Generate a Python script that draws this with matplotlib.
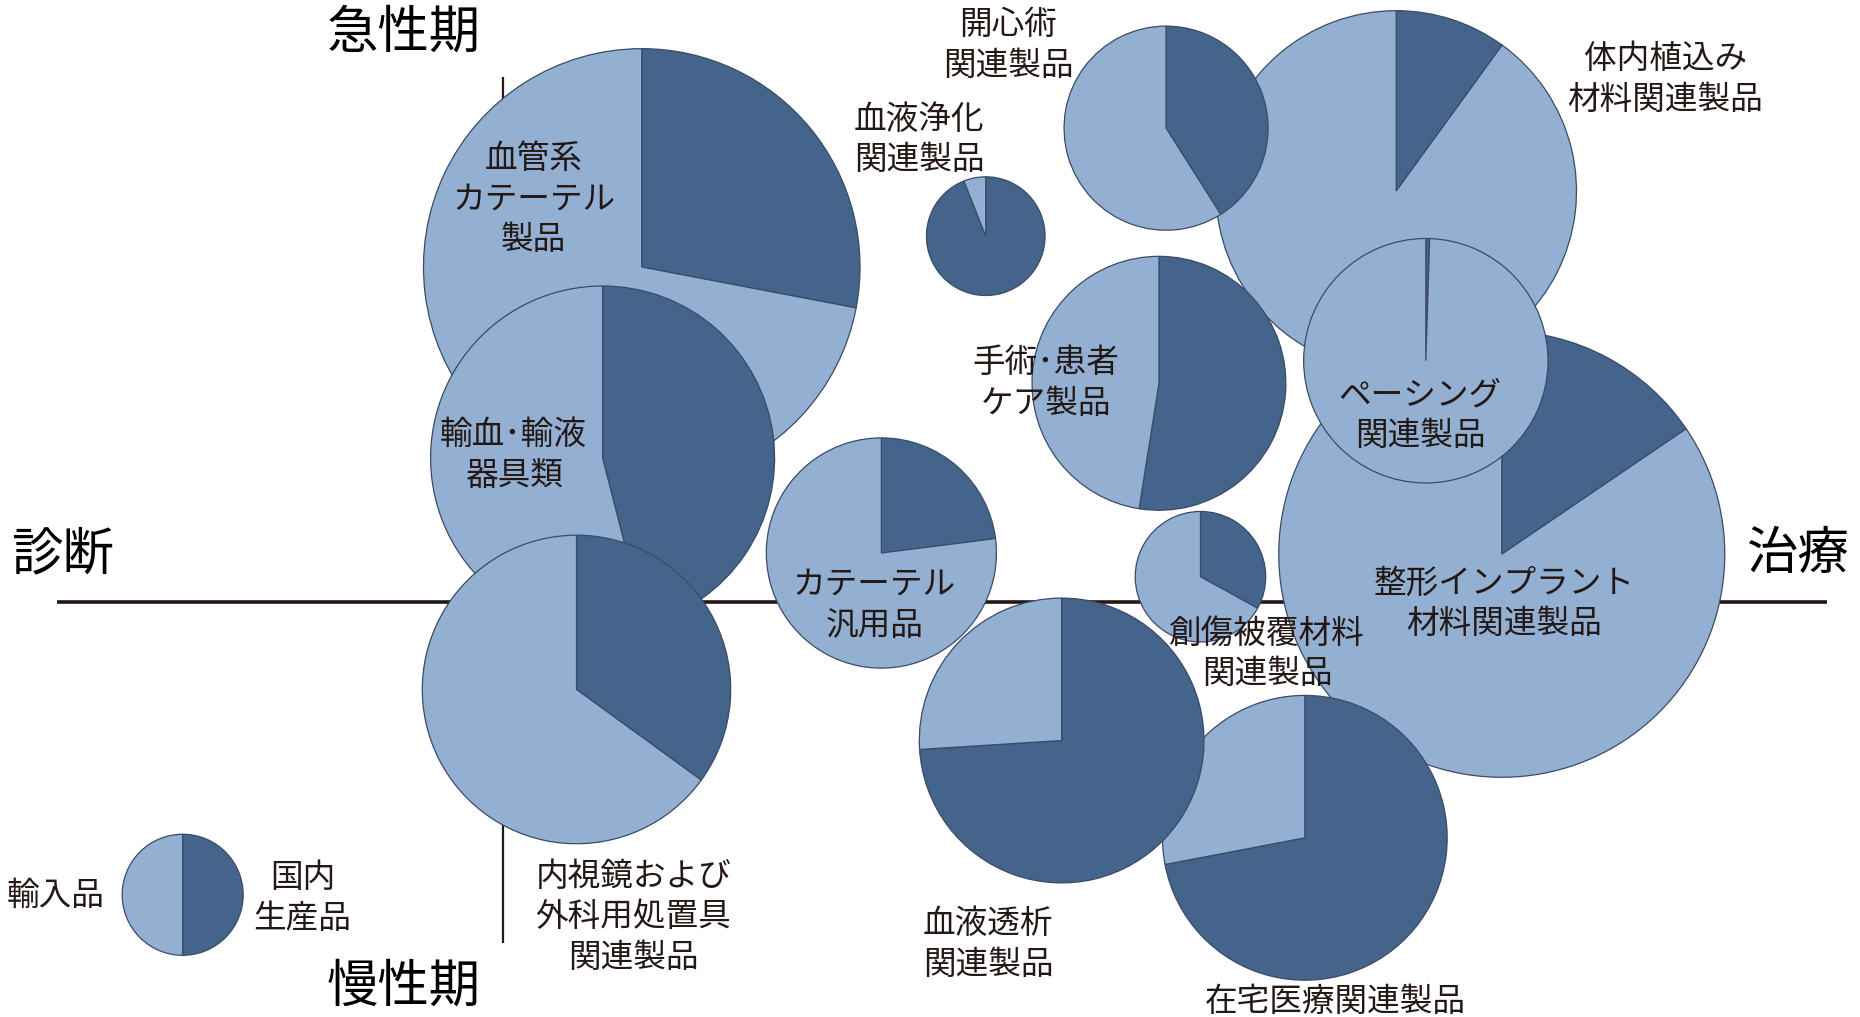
import matplotlib

matplotlib.use("Agg")
import matplotlib.pyplot as plt  # noqa: E402

plt.rcParams["font.family"] = ["Noto Sans CJK JP", "DejaVu Sans"]

# bubbles: position on the chart (x: 診断 -> 治療, y: 慢性期 -> 急性期), radius, domestic share
names = [
    "血管系カテーテル製品", "輸血・輸液器具類", "内視鏡および外科用処置具関連製品",
    "体内植込み材料関連製品", "整形インプラント材料関連製品", "ペーシング関連製品",
    "開心術関連製品", "血液浄化関連製品", "手術・患者ケア製品", "カテーテル汎用品",
    "創傷被覆材料関連製品", "在宅医療関連製品", "血液透析関連製品",
]
bubble_x = [117, 84, 62, 753, 842, 778, 559, 407, 553, 319, 588, 676, 471]
bubble_y = [282, 121, -74, 346, 40, 203, 399, 308, 184, 41, 21, -199, -117]
bubble_r = [184, 145, 130, 152, 188, 103, 86, 50, 107, 97, 55, 120, 120]
domestic = [0.28, 0.46, 0.35, 0.10, 0.155, 0.005, 0.41, 0.94, 0.525, 0.23, 0.33, 0.72, 0.74]

labels = [
    "血管系\nカテーテル\n製品", "輸血･輸液\n器具類", "内視鏡および\n外科用処置具\n関連製品",
    "体内植込み\n材料関連製品", "整形インプラント\n材料関連製品", "ペーシング\n関連製品",
    "開心術\n関連製品", "血液浄化\n関連製品", "手術･患者\nケア製品", "カテーテル\n汎用品",
    "創傷被覆材料\n関連製品", "在宅医療関連製品", "血液透析\n関連製品",
]
label_xy = [
    (26, 339), (9, 123), (110, -266), (980, 440), (844, -2), (773, 157),
    (426, 469), (351, 389), (458, 184), (313, -3), (644, -44), (702, -337), (409, -289),
]

axis_labels = ["急性期", "慢性期", "診断", "治療"]
legend_labels = ["国内\n生産品", "輸入品"]

DARK = "#44648c"
LIGHT = "#93b0d3"
EDGE = "#3b4a66"
TEXT = "#231815"

fig = plt.figure(figsize=(18.6, 10.17), dpi=100)
ax = fig.add_axes([0, 0, 1, 1])

# axes of the positioning map
ax.plot([-376, 1116], [0, 0], color=TEXT, lw=2.6, zorder=0, solid_capstyle="butt")
ax.plot([0, 0], [-288, 442], color=TEXT, lw=1.6, zorder=0, solid_capstyle="butt")

wp = dict(edgecolor=EDGE, linewidth=0.9)
for i, (x, y, r, d) in enumerate(zip(bubble_x, bubble_y, bubble_r, domestic)):
    wedges, _ = ax.pie(
        [d, 1 - d], colors=[DARK, LIGHT], center=(x, y), radius=r,
        startangle=90, counterclock=False, frame=True, wedgeprops=wp,
    )
    for w in wedges:
        w.set_zorder(2 + i)

# legend pie
wedges, _ = ax.pie(
    [0.5, 0.5], colors=[DARK, LIGHT], center=(-270, -247), radius=51,
    startangle=90, counterclock=False, frame=True, wedgeprops=wp,
)
for w in wedges:
    w.set_zorder(20)

FS = 23.5
for txt, (x, y) in zip(labels, label_xy):
    ax.text(x, y, txt, ha="center", va="center", fontsize=FS, color=TEXT,
            linespacing=1.35, zorder=30)

ax.text(-169, -250, legend_labels[0], ha="center", va="center", fontsize=FS,
        color=TEXT, linespacing=1.35, zorder=30)
ax.text(-377, -248, legend_labels[1], ha="center", va="center", fontsize=FS,
        color=TEXT, zorder=30)

for txt, (x, y) in zip(axis_labels, [(-84, 479), (-84, -325), (-371, 40), (1091, 40)]):
    ax.text(x, y, txt, ha="center", va="center", fontsize=37, color="black", zorder=30)

ax.set_xlim(-424, 1144)
ax.set_ylim(-350, 507)
ax.set_aspect("auto")
ax.axis("off")

fig.savefig("out.png", dpi=100)
